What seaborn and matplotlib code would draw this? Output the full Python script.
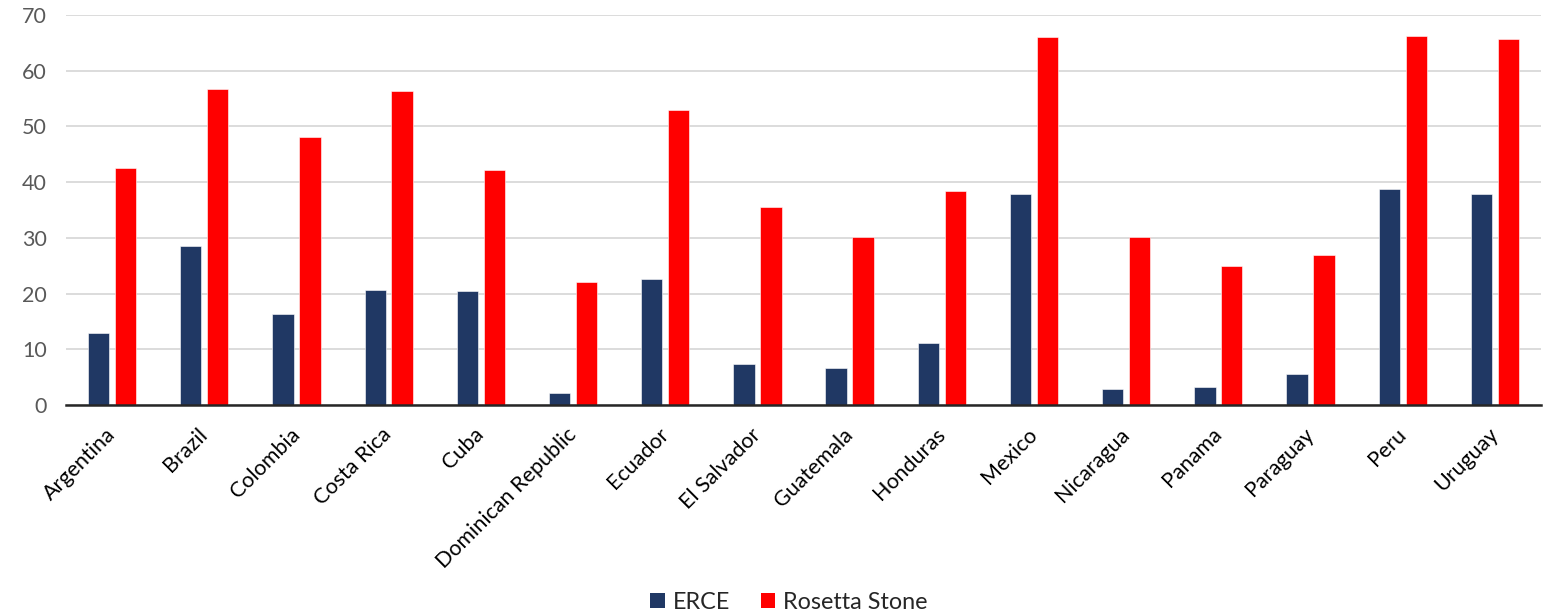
import matplotlib
matplotlib.use("Agg")
import matplotlib.pyplot as plt
import seaborn as sns
import pandas as pd
from matplotlib.patches import Patch

countries = ["Argentina", "Brazil", "Colombia", "Costa Rica", "Cuba",
             "Dominican Republic", "Ecuador", "El Salvador", "Guatemala",
             "Honduras", "Mexico", "Nicaragua", "Panama", "Paraguay",
             "Peru", "Uruguay"]
erce = [13.0, 28.6, 16.4, 20.7, 20.5, 2.1, 22.7, 7.3, 6.6, 11.1, 37.9,
        2.9, 3.3, 5.5, 38.7, 37.8]
rosetta = [42.6, 56.8, 48.1, 56.3, 42.1, 22.1, 53.0, 35.6, 30.1, 38.4,
           66.0, 30.1, 25.0, 27.0, 66.2, 65.7]
series_names = ["ERCE", "Rosetta Stone"]
yticks = [0, 10, 20, 30, 40, 50, 60, 70]

df = pd.DataFrame({
    "country": countries * 2,
    "value": erce + rosetta,
    "series": [series_names[0]] * len(countries) + [series_names[1]] * len(countries),
})

sns.set_theme(style="white")
plt.rcParams["font.family"] = ["Lato", "DejaVu Sans"]

fig = plt.figure(figsize=(15.52, 6.16), dpi=100)
ax = fig.add_axes([66 / 1552, 1 - 405 / 616, 1475 / 1552, 390 / 616])

palette = {"ERCE": "#203864", "Rosetta Stone": "#FF0000"}
sns.barplot(data=df, x="country", y="value", hue="series", palette=palette,
            saturation=1, width=0.585, gap=0.21, ax=ax, errorbar=None,
            legend=False, edgecolor="white", linewidth=0.4, zorder=3)

ax.set_xlim(-0.5, len(countries) - 0.5)
ax.set_ylim(0, 70)
ax.set_yticks(yticks)
ax.set_yticklabels([str(t) for t in yticks], fontsize=15.5, color="#595959")
ax.grid(axis="y", color="#D9D9D9", linewidth=1.3, zorder=0)
ax.set_axisbelow(True)
for s in ["top", "right", "left"]:
    ax.spines[s].set_visible(False)
ax.spines["bottom"].set_color("#262626")
ax.spines["bottom"].set_linewidth(1.8)
ax.spines["bottom"].set_zorder(5)
ax.tick_params(axis="x", length=0, pad=19)
ax.tick_params(axis="y", length=0, pad=14)
ax.set_xlabel("")
ax.set_ylabel("")
ax.set_xticks(range(len(countries)))
ax.set_xticklabels(countries, rotation=45, ha="right", va="center",
                   rotation_mode="anchor", fontsize=15.5, color="#000000")

handles = [Patch(facecolor=palette[n], edgecolor="none") for n in series_names]
fig.legend(handles, series_names, loc="center", bbox_to_anchor=(0.5085, 0.022),
           ncol=2, frameon=False, fontsize=16.8, handlelength=0.62,
           handleheight=0.62, handletextpad=0.35, columnspacing=1.3,
           borderpad=0)

fig.savefig("out.png", dpi=100)
